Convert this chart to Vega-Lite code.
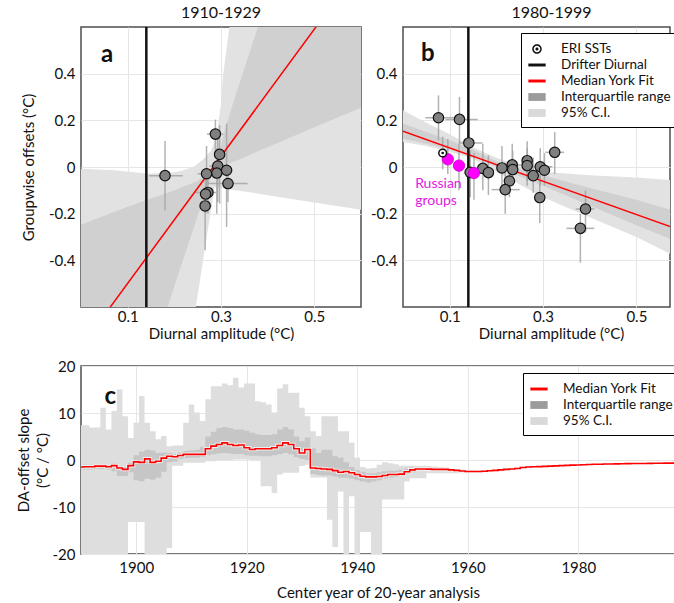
{
  "$schema": "https://vega.github.io/schema/vega-lite/v6.json",
  "padding": {"left": 15, "top": 4, "right": 0, "bottom": 0},
  "config": {
    "font": "Lato",
    "view": {"stroke": "#4d4d4d", "strokeWidth": 1.5},
    "axis": {"labelFontSize": 15, "titleFontSize": 15, "titleFontWeight": "normal", "labelColor": "#111", "titleColor": "#111", "domain": false, "ticks": false, "gridColor": "#e6e6e6", "gridWidth": 1, "labelFont": "Lato", "titleFont": "Lato"},
    "title": {"fontSize": 16, "fontWeight": "normal", "color": "#111", "offset": 5, "font": "Lato"},
    "legend": {"labelFontSize": 13.5, "labelFont": "Lato", "labelColor": "#111", "strokeColor": "black", "fillColor": "white", "padding": 7, "symbolSize": 300, "labelOffset": 15, "rowPadding": 0, "symbolStrokeWidth": 0, "symbolOpacity": 1}
  },
  "resolve": {"scale": {"color": "independent", "shape": "independent"}, "legend": {"color": "independent", "shape": "independent"}},
  "datasets": {
    "ptsA": [
      {"x": 0.18, "y": -0.037, "ylo": -0.186, "yhi": 0.111, "xlo": 0.146, "xhi": 0.218},
      {"x": 0.288, "y": 0.141, "ylo": 0.07, "yhi": 0.203, "xlo": 0.27, "xhi": 0.305},
      {"x": 0.297, "y": 0.054, "ylo": -0.157, "yhi": 0.179},
      {"x": 0.293, "y": 0.004, "ylo": -0.15, "yhi": 0.12, "xlo": 0.275, "xhi": 0.31},
      {"x": 0.291, "y": -0.026, "ylo": -0.2, "yhi": 0.08},
      {"x": 0.269, "y": -0.029, "ylo": -0.12, "yhi": 0.09, "xlo": 0.25, "xhi": 0.3},
      {"x": 0.312, "y": -0.014, "ylo": -0.257, "yhi": 0.186},
      {"x": 0.315, "y": -0.071, "ylo": -0.15, "yhi": 0.0, "xlo": 0.271, "xhi": 0.357},
      {"x": 0.272, "y": -0.109, "ylo": -0.2, "yhi": -0.05, "xlo": 0.245, "xhi": 0.29},
      {"x": 0.267, "y": -0.116, "ylo": -0.2, "yhi": -0.05},
      {"x": 0.266, "y": -0.167, "ylo": -0.357, "yhi": -0.1, "xlo": 0.255, "xhi": 0.28}
    ],
    "ptsB": [
      {"x": 0.076, "y": 0.211, "ylo": 0.114, "yhi": 0.307, "xlo": 0.048, "xhi": 0.109, "g": "g"},
      {"x": 0.121, "y": 0.204, "ylo": 0.1, "yhi": 0.3, "xlo": 0.091, "xhi": 0.16, "g": "g"},
      {"x": 0.141, "y": 0.103, "ylo": -0.02, "yhi": 0.2, "xlo": 0.12, "xhi": 0.17, "g": "g"},
      {"x": 0.085, "y": 0.06, "ylo": -0.01, "yhi": 0.13, "g": "e"},
      {"x": 0.096, "y": 0.033, "ylo": -0.03, "yhi": 0.12, "g": "r"},
      {"x": 0.12, "y": 0.006, "ylo": -0.1, "yhi": 0.1, "g": "r"},
      {"x": 0.144, "y": -0.023, "ylo": -0.13, "yhi": 0.07, "g": "g"},
      {"x": 0.152, "y": -0.026, "ylo": -0.14, "yhi": 0.06, "xlo": 0.13, "xhi": 0.17, "g": "r"},
      {"x": 0.171, "y": -0.006, "ylo": -0.1, "yhi": 0.1, "g": "g"},
      {"x": 0.183, "y": -0.024, "ylo": -0.12, "yhi": 0.05, "g": "g"},
      {"x": 0.212, "y": -0.004, "ylo": -0.1, "yhi": 0.09, "g": "g"},
      {"x": 0.234, "y": 0.009, "ylo": -0.06, "yhi": 0.1, "xlo": 0.2, "xhi": 0.26, "g": "g"},
      {"x": 0.235, "y": -0.011, "ylo": -0.08, "yhi": 0.07, "g": "g"},
      {"x": 0.228, "y": -0.06, "ylo": -0.13, "yhi": 0.02, "g": "g"},
      {"x": 0.219, "y": -0.097, "ylo": -0.2, "yhi": -0.02, "xlo": 0.19, "xhi": 0.25, "g": "g"},
      {"x": 0.266, "y": 0.027, "ylo": -0.08, "yhi": 0.11, "g": "g"},
      {"x": 0.266, "y": 0.006, "ylo": -0.06, "yhi": 0.08, "g": "g"},
      {"x": 0.279, "y": -0.037, "ylo": -0.11, "yhi": 0.04, "g": "g"},
      {"x": 0.294, "y": 0.001, "ylo": -0.08, "yhi": 0.08, "xlo": 0.27, "xhi": 0.32, "g": "g"},
      {"x": 0.303, "y": -0.014, "ylo": -0.08, "yhi": 0.06, "g": "g"},
      {"x": 0.293, "y": -0.131, "ylo": -0.24, "yhi": -0.03, "g": "g"},
      {"x": 0.325, "y": 0.063, "ylo": -0.03, "yhi": 0.15, "xlo": 0.305, "xhi": 0.345, "g": "g"},
      {"x": 0.391, "y": -0.18, "ylo": -0.28, "yhi": -0.1, "xlo": 0.37, "xhi": 0.41, "g": "g"},
      {"x": 0.38, "y": -0.263, "ylo": -0.41, "yhi": -0.2, "xlo": 0.35, "xhi": 0.41, "g": "g"}
    ],
    "ciA": [
      {"x": 0, "lo": -2, "hi": -0.007},
      {"x": 0.071, "lo": -2, "hi": -0.014},
      {"x": 0.146, "lo": -2, "hi": -0.029},
      {"x": 0.2, "lo": -2, "hi": -0.022},
      {"x": 0.214, "lo": -2, "hi": -0.017},
      {"x": 0.24, "lo": -1.0, "hi": 0.0},
      {"x": 0.246, "lo": -0.6, "hi": 0.008},
      {"x": 0.25, "lo": -0.55, "hi": 0.014},
      {"x": 0.26, "lo": -0.42, "hi": 0.03},
      {"x": 0.27, "lo": -0.29, "hi": 0.05},
      {"x": 0.279, "lo": -0.18, "hi": 0.071},
      {"x": 0.286, "lo": -0.086, "hi": 0.11},
      {"x": 0.293, "lo": -0.087, "hi": 0.171},
      {"x": 0.3, "lo": -0.09, "hi": 0.27},
      {"x": 0.304, "lo": -0.091, "hi": 0.386},
      {"x": 0.318, "lo": -0.096, "hi": 0.6},
      {"x": 0.33, "lo": -0.1, "hi": 0.8},
      {"x": 0.35, "lo": -0.105, "hi": 1.2},
      {"x": 0.4, "lo": -0.121, "hi": 2},
      {"x": 0.5, "lo": -0.152, "hi": 2},
      {"x": 0.6, "lo": -0.183, "hi": 2}
    ],
    "iqA": [
      {"x": 0, "lo": -2, "hi": -0.247},
      {"x": 0.1, "lo": -2, "hi": -0.17},
      {"x": 0.15, "lo": -1.2, "hi": -0.135},
      {"x": 0.186, "lo": -0.6, "hi": -0.11},
      {"x": 0.2, "lo": -0.51, "hi": -0.1},
      {"x": 0.23, "lo": -0.33, "hi": -0.076},
      {"x": 0.25, "lo": -0.21, "hi": -0.06},
      {"x": 0.26, "lo": -0.15, "hi": -0.045},
      {"x": 0.27, "lo": -0.09, "hi": -0.03},
      {"x": 0.28, "lo": -0.04, "hi": 0.0},
      {"x": 0.29, "lo": -0.02, "hi": 0.03},
      {"x": 0.3, "lo": 0.0, "hi": 0.09},
      {"x": 0.307, "lo": 0.006, "hi": 0.15},
      {"x": 0.33, "lo": 0.025, "hi": 0.3},
      {"x": 0.379, "lo": 0.067, "hi": 0.6},
      {"x": 0.4, "lo": 0.085, "hi": 0.75},
      {"x": 0.5, "lo": 0.17, "hi": 2},
      {"x": 0.6, "lo": 0.254, "hi": 2}
    ],
    "bandB": [
      {"x": 0, "clo": 0.107, "chi": 0.243, "qlo": 0.121, "qhi": 0.186},
      {"x": 0.05, "clo": 0.09, "chi": 0.19, "qlo": 0.1, "qhi": 0.15},
      {"x": 0.1, "clo": 0.065, "chi": 0.14, "qlo": 0.075, "qhi": 0.115},
      {"x": 0.15, "clo": 0.035, "chi": 0.085, "qlo": 0.045, "qhi": 0.075},
      {"x": 0.2, "clo": -0.02, "chi": 0.04, "qlo": 0.0, "qhi": 0.025},
      {"x": 0.25, "clo": -0.075, "chi": 0.005, "qlo": -0.04, "qhi": -0.01},
      {"x": 0.3, "clo": -0.13, "chi": -0.02, "qlo": -0.08, "qhi": -0.035},
      {"x": 0.4, "clo": -0.215, "chi": -0.035, "qlo": -0.165, "qhi": -0.09},
      {"x": 0.5, "clo": -0.3, "chi": -0.045, "qlo": -0.25, "qhi": -0.14},
      {"x": 0.6, "clo": -0.4, "chi": -0.06, "qlo": -0.33, "qhi": -0.2}
    ],
    "fitA": [{"x": 0, "y": -0.771}, {"x": 0.6, "y": 0.863}],
    "fitB": [{"x": 0, "y": 0.153}, {"x": 0.6, "y": -0.275}],
    "drift": [{"x": 0.14}],
    "ts": [
      {"yr": 1890, "m": -1.5, "q1": -2.0, "q3": -1.0, "lo": -25, "hi": 7.4},
      {"yr": 1891, "m": -1.45, "q1": -2.0, "q3": -1.0, "lo": -25, "hi": 7.4},
      {"yr": 1892, "m": -1.45, "q1": -2.0, "q3": -1.0, "lo": -25, "hi": 6.9},
      {"yr": 1893, "m": -1.3, "q1": -1.9, "q3": -0.9, "lo": -25, "hi": 6.9},
      {"yr": 1894, "m": -1.3, "q1": -1.9, "q3": -0.9, "lo": -25, "hi": 11.1},
      {"yr": 1895, "m": -1.45, "q1": -2.0, "q3": -1.0, "lo": -25, "hi": 6.5},
      {"yr": 1896, "m": -1.2, "q1": -2.4, "q3": -0.8, "lo": -25, "hi": 10.4},
      {"yr": 1897, "m": -1.7, "q1": -3.4, "q3": -1.2, "lo": -25, "hi": 15.0},
      {"yr": 1898, "m": -2.0, "q1": -3.4, "q3": -1.5, "lo": -25, "hi": 9.3},
      {"yr": 1899, "m": -1.2, "q1": -2.6, "q3": -0.6, "lo": -13.2, "hi": 4.7},
      {"yr": 1900, "m": -0.4, "q1": -4.3, "q3": 1.0, "lo": -13.2, "hi": 7.9},
      {"yr": 1901, "m": -0.5, "q1": -4.5, "q3": 1.8, "lo": -13.2, "hi": 13.6},
      {"yr": 1902, "m": 0.25, "q1": -4.0, "q3": 2.2, "lo": -25, "hi": 7.9},
      {"yr": 1903, "m": -0.5, "q1": -4.2, "q3": 2.0, "lo": -25, "hi": 6.1},
      {"yr": 1904, "m": -0.25, "q1": -3.8, "q3": 1.5, "lo": -25, "hi": 4.4},
      {"yr": 1905, "m": 0.4, "q1": -2.5, "q3": 1.6, "lo": -25, "hi": 5.1},
      {"yr": 1906, "m": 0.8, "q1": -0.5, "q3": 1.5, "lo": -18.7, "hi": 2.9},
      {"yr": 1907, "m": 0.7, "q1": -0.3, "q3": 1.3, "lo": -1.2, "hi": 3.1},
      {"yr": 1908, "m": 0.95, "q1": 0.2, "q3": 1.6, "lo": -1.2, "hi": 3.1},
      {"yr": 1909, "m": 1.2, "q1": 0.4, "q3": 1.9, "lo": -0.6, "hi": 7.9},
      {"yr": 1910, "m": 1.2, "q1": 0.5, "q3": 2.0, "lo": -0.6, "hi": 11.8},
      {"yr": 1911, "m": 1.2, "q1": 0.5, "q3": 2.2, "lo": -0.6, "hi": 10.1},
      {"yr": 1912, "m": 1.2, "q1": 0.7, "q3": 2.8, "lo": -0.6, "hi": 8.3},
      {"yr": 1913, "m": 2.4, "q1": 1.0, "q3": 5.0, "lo": -0.25, "hi": 12.9},
      {"yr": 1914, "m": 2.95, "q1": 1.2, "q3": 6.0, "lo": -0.25, "hi": 15.7},
      {"yr": 1915, "m": 3.3, "q1": 1.4, "q3": 6.8, "lo": 0.0, "hi": 15.7},
      {"yr": 1916, "m": 3.65, "q1": 1.5, "q3": 7.0, "lo": 0.0, "hi": 16.3},
      {"yr": 1917, "m": 3.3, "q1": 1.4, "q3": 6.8, "lo": 0.0, "hi": 15.9},
      {"yr": 1918, "m": 3.1, "q1": 1.3, "q3": 6.5, "lo": 0.1, "hi": 17.5},
      {"yr": 1919, "m": 3.2, "q1": 1.3, "q3": 6.5, "lo": 0.1, "hi": 15.4},
      {"yr": 1920, "m": 2.6, "q1": 1.0, "q3": 6.2, "lo": 0.1, "hi": 16.3},
      {"yr": 1921, "m": 2.25, "q1": 0.9, "q3": 5.8, "lo": 0.0, "hi": 16.3},
      {"yr": 1922, "m": 2.4, "q1": 0.9, "q3": 5.5, "lo": 0.0, "hi": 12.5},
      {"yr": 1923, "m": 2.4, "q1": 0.8, "q3": 5.3, "lo": -5.6, "hi": 12.3},
      {"yr": 1924, "m": 2.4, "q1": 0.8, "q3": 5.3, "lo": -5.6, "hi": 11.8},
      {"yr": 1925, "m": 2.6, "q1": 1.0, "q3": 5.5, "lo": -7.0, "hi": 10.1},
      {"yr": 1926, "m": 3.1, "q1": 1.2, "q3": 6.5, "lo": -3.1, "hi": 15.2},
      {"yr": 1927, "m": 3.65, "q1": 1.5, "q3": 7.0, "lo": -2.7, "hi": 16.1},
      {"yr": 1928, "m": 3.3, "q1": 1.2, "q3": 6.5, "lo": -2.7, "hi": 14.3},
      {"yr": 1929, "m": 2.4, "q1": 0.6, "q3": 5.0, "lo": -2.7, "hi": 14.3},
      {"yr": 1930, "m": 1.5, "q1": 0.2, "q3": 4.0, "lo": -1.3, "hi": 11.1},
      {"yr": 1931, "m": 2.25, "q1": 0.0, "q3": 4.8, "lo": -1.0, "hi": 9.3},
      {"yr": 1932, "m": -1.7, "q1": -3.0, "q3": 2.5, "lo": -3.7, "hi": 6.1},
      {"yr": 1933, "m": -1.8, "q1": -3.2, "q3": 1.5, "lo": -3.7, "hi": 5.1},
      {"yr": 1934, "m": -1.9, "q1": -3.3, "q3": 2.2, "lo": -3.7, "hi": 9.3},
      {"yr": 1935, "m": -2.0, "q1": -3.3, "q3": 2.2, "lo": -12.7, "hi": 9.3},
      {"yr": 1936, "m": -2.25, "q1": -3.5, "q3": 0.8, "lo": -18.5, "hi": 9.3},
      {"yr": 1937, "m": -2.6, "q1": -3.8, "q3": 0.5, "lo": -6.7, "hi": 6.1},
      {"yr": 1938, "m": -2.45, "q1": -3.8, "q3": -0.5, "lo": -25, "hi": 6.1},
      {"yr": 1939, "m": -2.7, "q1": -4.0, "q3": -1.5, "lo": -7.7, "hi": 3.7},
      {"yr": 1940, "m": -3.1, "q1": -4.3, "q3": -2.2, "lo": -25, "hi": 0.5},
      {"yr": 1941, "m": -3.45, "q1": -4.6, "q3": -2.5, "lo": -15.3, "hi": -1.5},
      {"yr": 1942, "m": -3.6, "q1": -4.8, "q3": -2.8, "lo": -15.3, "hi": -1.8},
      {"yr": 1943, "m": -3.6, "q1": -4.6, "q3": -2.8, "lo": -25, "hi": -1.7},
      {"yr": 1944, "m": -3.5, "q1": -4.3, "q3": -2.6, "lo": -25, "hi": -1.0},
      {"yr": 1945, "m": -3.3, "q1": -4.0, "q3": -2.4, "lo": -8.4, "hi": -0.5},
      {"yr": 1946, "m": -3.1, "q1": -3.8, "q3": -2.3, "lo": -8.4, "hi": -0.7},
      {"yr": 1947, "m": -3.1, "q1": -3.6, "q3": -2.3, "lo": -8.4, "hi": -0.9},
      {"yr": 1948, "m": -3.0, "q1": -3.4, "q3": -2.1, "lo": -8.4, "hi": -1.2},
      {"yr": 1949, "m": -2.5, "q1": -3.0, "q3": -1.8, "lo": -4.6, "hi": -1.2},
      {"yr": 1950, "m": -2.1, "q1": -2.6, "q3": -1.6, "lo": -3.9, "hi": -1.2},
      {"yr": 1951, "m": -1.9, "q1": -2.3, "q3": -1.6, "lo": -3.9, "hi": -1.2},
      {"yr": 1952, "m": -1.9, "q1": -2.2, "q3": -1.6, "lo": -3.9, "hi": -1.2},
      {"yr": 1953, "m": -1.95, "q1": -2.2, "q3": -1.7, "lo": -2.8, "hi": -1.3},
      {"yr": 1954, "m": -2.0, "q1": -2.25, "q3": -1.75, "lo": -2.8, "hi": -1.4},
      {"yr": 1955, "m": -2.0, "q1": -2.25, "q3": -1.8, "lo": -2.8, "hi": -1.5},
      {"yr": 1956, "m": -2.0, "q1": -2.25, "q3": -1.8, "lo": -2.8, "hi": -1.6},
      {"yr": 1957, "m": -2.1, "q1": -2.35, "q3": -1.9, "lo": -2.8, "hi": -1.7},
      {"yr": 1958, "m": -2.2, "q1": -2.4, "q3": -2.0, "lo": -2.8, "hi": -1.9},
      {"yr": 1959, "m": -2.35, "q1": -2.5, "q3": -2.15, "lo": -2.8, "hi": -2.0},
      {"yr": 1960, "m": -2.45, "q1": -2.6, "q3": -2.3, "lo": -2.8, "hi": -2.1},
      {"yr": 1961, "m": -2.45, "q1": -2.6, "q3": -2.3, "lo": -2.75, "hi": -2.15},
      {"yr": 1962, "m": -2.45, "q1": -2.6, "q3": -2.3, "lo": -2.75, "hi": -2.2},
      {"yr": 1963, "m": -2.4, "q1": -2.55, "q3": -2.25, "lo": -2.7, "hi": -2.15},
      {"yr": 1964, "m": -2.3, "q1": -2.45, "q3": -2.15, "lo": -2.6, "hi": -2.05},
      {"yr": 1965, "m": -2.2, "q1": -2.35, "q3": -2.05, "lo": -2.5, "hi": -1.95},
      {"yr": 1966, "m": -2.1, "q1": -2.25, "q3": -1.95, "lo": -2.4, "hi": -1.85},
      {"yr": 1967, "m": -2.0, "q1": -2.15, "q3": -1.85, "lo": -2.3, "hi": -1.75},
      {"yr": 1968, "m": -1.9, "q1": -2.05, "q3": -1.75, "lo": -2.2, "hi": -1.65},
      {"yr": 1969, "m": -1.8, "q1": -1.95, "q3": -1.65, "lo": -2.1, "hi": -1.55},
      {"yr": 1970, "m": -1.6, "q1": -1.72, "q3": -1.5, "lo": -1.85, "hi": -1.4},
      {"yr": 1971, "m": -1.5, "q1": -1.6, "q3": -1.4, "lo": -1.7, "hi": -1.3},
      {"yr": 1972, "m": -1.45, "q1": -1.55, "q3": -1.35, "lo": -1.62, "hi": -1.28},
      {"yr": 1973, "m": -1.4, "q1": -1.5, "q3": -1.32, "lo": -1.55, "hi": -1.25},
      {"yr": 1974, "m": -1.35, "q1": -1.44, "q3": -1.27, "lo": -1.5, "hi": -1.2},
      {"yr": 1975, "m": -1.3, "q1": -1.38, "q3": -1.23, "lo": -1.45, "hi": -1.16},
      {"yr": 1976, "m": -1.25, "q1": -1.32, "q3": -1.18, "lo": -1.38, "hi": -1.12},
      {"yr": 1977, "m": -1.2, "q1": -1.27, "q3": -1.13, "lo": -1.33, "hi": -1.08},
      {"yr": 1978, "m": -1.15, "q1": -1.22, "q3": -1.09, "lo": -1.27, "hi": -1.04},
      {"yr": 1979, "m": -1.1, "q1": -1.16, "q3": -1.04, "lo": -1.21, "hi": -1.0},
      {"yr": 1980, "m": -1.05, "q1": -1.11, "q3": -1.0, "lo": -1.16, "hi": -0.95},
      {"yr": 1981, "m": -1.0, "q1": -1.06, "q3": -0.95, "lo": -1.1, "hi": -0.9},
      {"yr": 1982, "m": -0.95, "q1": -1.0, "q3": -0.9, "lo": -1.05, "hi": -0.86},
      {"yr": 1983, "m": -0.92, "q1": -0.97, "q3": -0.87, "lo": -1.01, "hi": -0.83},
      {"yr": 1984, "m": -0.89, "q1": -0.94, "q3": -0.85, "lo": -0.98, "hi": -0.81},
      {"yr": 1985, "m": -0.86, "q1": -0.91, "q3": -0.82, "lo": -0.95, "hi": -0.78},
      {"yr": 1986, "m": -0.84, "q1": -0.88, "q3": -0.8, "lo": -0.92, "hi": -0.76},
      {"yr": 1987, "m": -0.82, "q1": -0.86, "q3": -0.78, "lo": -0.9, "hi": -0.74},
      {"yr": 1988, "m": -0.8, "q1": -0.84, "q3": -0.76, "lo": -0.88, "hi": -0.72},
      {"yr": 1989, "m": -0.78, "q1": -0.82, "q3": -0.74, "lo": -0.86, "hi": -0.7},
      {"yr": 1990, "m": -0.76, "q1": -0.8, "q3": -0.72, "lo": -0.84, "hi": -0.68},
      {"yr": 1991, "m": -0.75, "q1": -0.79, "q3": -0.71, "lo": -0.83, "hi": -0.67},
      {"yr": 1992, "m": -0.73, "q1": -0.77, "q3": -0.69, "lo": -0.81, "hi": -0.65},
      {"yr": 1993, "m": -0.72, "q1": -0.76, "q3": -0.68, "lo": -0.8, "hi": -0.64},
      {"yr": 1994, "m": -0.7, "q1": -0.74, "q3": -0.66, "lo": -0.78, "hi": -0.62},
      {"yr": 1995, "m": -0.69, "q1": -0.73, "q3": -0.65, "lo": -0.77, "hi": -0.61},
      {"yr": 1996, "m": -0.67, "q1": -0.71, "q3": -0.63, "lo": -0.75, "hi": -0.59},
      {"yr": 1997, "m": -0.66, "q1": -0.7, "q3": -0.62, "lo": -0.74, "hi": -0.58},
      {"yr": 1998, "m": -0.65, "q1": -0.69, "q3": -0.61, "lo": -0.73, "hi": -0.57}
    ]
  },
  "concat": [
    {
      "hconcat": [
        {
          "width": 280, "height": 280,
          "title": {"text": "1910-1929"},
          "layer": [
            {"data": {"name": "ciA"}, "mark": {"type": "area", "color": "#e2e2e2", "clip": true, "opacity": 1},
             "encoding": {
               "x": {"field": "x", "type": "quantitative", "scale": {"domain": [0, 0.6], "nice": false, "zero": false},
                     "axis": {"title": "Diurnal amplitude (°C)", "values": [0.1, 0.3, 0.5], "format": ".1f", "grid": true, "labelPadding": 2, "titlePadding": 2}},
               "y": {"field": "lo", "type": "quantitative", "scale": {"domain": [-0.6, 0.6], "nice": false, "zero": false},
                     "axis": {"title": "Groupwise offsets (°C)", "values": [-0.4, -0.2, 0, 0.2, 0.4], "labelExpr": "datum.value == 0 ? '0' : replace(format(datum.value, '.1f'), '\u2212', '-')", "grid": true, "labelPadding": 6, "titlePadding": 12}},
               "y2": {"field": "hi"}}},
            {"data": {"name": "iqA"}, "mark": {"type": "area", "color": "#d0d0d0", "clip": true, "opacity": 1},
             "encoding": {"x": {"field": "x", "type": "quantitative"}, "y": {"field": "lo", "type": "quantitative"}, "y2": {"field": "hi"}}},
            {"data": {"name": "ptsA"}, "mark": {"type": "rule", "color": "#a5a5a5", "strokeWidth": 1.5, "opacity": 0.85},
             "encoding": {"x": {"field": "x", "type": "quantitative"}, "y": {"field": "ylo", "type": "quantitative"}, "y2": {"field": "yhi"}}},
            {"data": {"name": "ptsA"}, "transform": [{"filter": "datum.xlo != null"}], "mark": {"type": "rule", "color": "#a5a5a5", "strokeWidth": 1.5, "opacity": 0.85},
             "encoding": {"x": {"field": "xlo", "type": "quantitative"}, "x2": {"field": "xhi"}, "y": {"field": "y", "type": "quantitative"}}},
            {"data": {"name": "fitA"}, "mark": {"type": "line", "color": "#ff0000", "strokeWidth": 1.5, "clip": true},
             "encoding": {"x": {"field": "x", "type": "quantitative"}, "y": {"field": "y", "type": "quantitative"}}},
            {"data": {"name": "drift"}, "mark": {"type": "rule", "color": "#111", "strokeWidth": 2.5},
             "encoding": {"x": {"field": "x", "type": "quantitative"}}},
            {"data": {"name": "ptsA"}, "mark": {"type": "point", "filled": true, "fill": "#808080", "stroke": "#111", "strokeWidth": 1.2, "size": 108, "opacity": 1},
             "encoding": {"x": {"field": "x", "type": "quantitative"}, "y": {"field": "y", "type": "quantitative"}}},
            {"data": {"values": [{"x": 0.056, "y": 0.48, "t": "a"}]}, "mark": {"type": "text", "fontSize": 24, "fontWeight": "bold", "color": "#111"},
             "encoding": {"x": {"field": "x", "type": "quantitative"}, "y": {"field": "y", "type": "quantitative"}, "text": {"field": "t"}}}
          ]
        },
        {
          "width": 267, "height": 280,
          "title": {"text": "1980-1999", "dx": 15},
          "layer": [
            {"data": {"name": "bandB"}, "mark": {"type": "area", "color": "#e2e2e2", "clip": true, "opacity": 1},
             "encoding": {
               "x": {"field": "x", "type": "quantitative", "scale": {"domain": [0, 0.572], "nice": false, "zero": false},
                     "axis": {"title": "Diurnal amplitude (°C)", "values": [0.1, 0.3, 0.5], "format": ".1f", "grid": true, "labelPadding": 2, "titlePadding": 2, "titleX": 148}},
               "y": {"field": "clo", "type": "quantitative", "scale": {"domain": [-0.6, 0.6], "nice": false, "zero": false},
                     "axis": {"title": null, "values": [-0.4, -0.2, 0, 0.2, 0.4], "labelExpr": "datum.value == 0 ? '0' : replace(format(datum.value, '.1f'), '\u2212', '-')", "grid": true, "labelPadding": 6}},
               "y2": {"field": "chi"}}},
            {"data": {"name": "bandB"}, "mark": {"type": "area", "color": "#d0d0d0", "clip": true, "opacity": 1},
             "encoding": {"x": {"field": "x", "type": "quantitative"}, "y": {"field": "qlo", "type": "quantitative"}, "y2": {"field": "qhi"}}},
            {"data": {"name": "ptsB"}, "mark": {"type": "rule", "color": "#a5a5a5", "strokeWidth": 1.5, "opacity": 0.85},
             "encoding": {"x": {"field": "x", "type": "quantitative"}, "y": {"field": "ylo", "type": "quantitative"}, "y2": {"field": "yhi"}}},
            {"data": {"name": "ptsB"}, "transform": [{"filter": "datum.xlo != null"}], "mark": {"type": "rule", "color": "#a5a5a5", "strokeWidth": 1.5, "opacity": 0.85},
             "encoding": {"x": {"field": "xlo", "type": "quantitative"}, "x2": {"field": "xhi"}, "y": {"field": "y", "type": "quantitative"}}},
            {"data": {"name": "fitB"}, "mark": {"type": "line", "color": "#ff0000", "strokeWidth": 1.5, "clip": true},
             "encoding": {"x": {"field": "x", "type": "quantitative"}, "y": {"field": "y", "type": "quantitative"}}},
            {"data": {"name": "drift"}, "mark": {"type": "rule", "color": "#111", "strokeWidth": 2.5},
             "encoding": {"x": {"field": "x", "type": "quantitative"}}},
            {"data": {"name": "ptsB"}, "transform": [{"filter": "datum.g == 'g'"}], "mark": {"type": "point", "filled": true, "fill": "#808080", "stroke": "#111", "strokeWidth": 1.2, "size": 108, "opacity": 1},
             "encoding": {"x": {"field": "x", "type": "quantitative"}, "y": {"field": "y", "type": "quantitative"}}},
            {"data": {"name": "ptsB"}, "transform": [{"filter": "datum.g == 'r'"}], "mark": {"type": "point", "filled": true, "fill": "#ff00ff", "stroke": "#cc00cc", "strokeWidth": 0.8, "size": 130, "opacity": 1},
             "encoding": {"x": {"field": "x", "type": "quantitative"}, "y": {"field": "y", "type": "quantitative"}}},
            {"data": {"name": "ptsB"}, "transform": [{"filter": "datum.g == 'e'"}], "mark": {"type": "point", "filled": true, "fill": "white", "stroke": "#111", "strokeWidth": 1.5, "size": 60, "opacity": 1},
             "encoding": {"x": {"field": "x", "type": "quantitative"}, "y": {"field": "y", "type": "quantitative"}}},
            {"data": {"name": "ptsB"}, "transform": [{"filter": "datum.g == 'e'"}], "mark": {"type": "point", "filled": true, "fill": "#111", "size": 7, "opacity": 1},
             "encoding": {"x": {"field": "x", "type": "quantitative"}, "y": {"field": "y", "type": "quantitative"}}},
            {"data": {"values": [{"x": 0.026, "y": -0.043, "t": "Russian\ngroups"}]}, "mark": {"type": "text", "fontSize": 14, "color": "#e020e0", "align": "left", "baseline": "top", "lineBreak": "\n", "lineHeight": 17},
             "encoding": {"x": {"field": "x", "type": "quantitative"}, "y": {"field": "y", "type": "quantitative"}, "text": {"field": "t"}}},
            {"data": {"values": [{"x": 0.053, "y": 0.484, "t": "b"}]}, "mark": {"type": "text", "fontSize": 24, "fontWeight": "bold", "color": "#111"},
             "encoding": {"x": {"field": "x", "type": "quantitative"}, "y": {"field": "y", "type": "quantitative"}, "text": {"field": "t"}}},
            {"data": {"values": [{"x": -1, "y": -1, "item": "ERI SSTs"}]}, "mark": {"type": "point", "filled": true, "clip": true, "opacity": 1},
             "encoding": {
               "x": {"field": "x", "type": "quantitative"}, "y": {"field": "y", "type": "quantitative"},
               "color": {"field": "item", "type": "nominal",
                 "scale": {"domain": ["ERI SSTs", "Drifter Diurnal", "Median York Fit", "Interquartile range", "95% C.I."], "range": ["#111", "#111", "#ff0000", "#9b9b9b", "#d9d9d9"]},
                 "legend": {"title": null, "orient": "none", "legendX": 440, "legendY": 6}},
               "shape": {"field": "item", "type": "nominal",
                 "scale": {"domain": ["ERI SSTs", "Drifter Diurnal", "Median York Fit", "Interquartile range", "95% C.I."],
                   "range": ["M0,-0.55A0.55,0.55,0,1,1,0,0.55A0.55,0.55,0,1,1,0,-0.55Z M0,-0.38A0.38,0.38,0,1,0,0,0.38A0.38,0.38,0,1,0,0,-0.38Z M0,-0.18A0.18,0.18,0,1,1,0,0.18A0.18,0.18,0,1,1,0,-0.18Z", "M-1,-0.17H1V0.17H-1Z", "M-1,-0.17H1V0.17H-1Z", "M-1,-0.45H1V0.45H-1Z", "M-1,-0.45H1V0.45H-1Z"]},
                 "legend": {"title": null, "orient": "none", "legendX": 440, "legendY": 6}}}}
          ]
        }
      ],
      "spacing": 7
    },
    {
      "width": 594, "height": 188,
      "layer": [
        {"data": {"name": "ts"}, "mark": {"type": "area", "interpolate": "step", "color": "#dedede", "clip": true, "opacity": 1},
         "encoding": {
           "x": {"field": "yr", "type": "quantitative", "scale": {"domain": [1890, 1997.5], "nice": false, "zero": false},
                 "axis": {"title": "Center year of 20-year analysis", "values": [1900, 1920, 1940, 1960, 1980], "format": "d", "grid": true, "labelPadding": 6, "titlePadding": 10}},
           "y": {"field": "lo", "type": "quantitative", "scale": {"domain": [-20, 20], "nice": false, "zero": false},
                 "axis": {"title": ["DA-offset slope", "(°C / °C)"], "values": [-20, -15, -10, -5, 0, 5, 10, 15, 20], "labelExpr": "datum.value % 10 == 0 ? replace(format(datum.value, 'd'), '\u2212', '-') : ''", "grid": true, "labelPadding": 6, "titlePadding": 2, "titleLineHeight": 19}},
           "y2": {"field": "hi"}}},
        {"data": {"name": "ts"}, "mark": {"type": "area", "interpolate": "step", "color": "#c6c6c6", "clip": true, "opacity": 1},
         "encoding": {"x": {"field": "yr", "type": "quantitative"}, "y": {"field": "q1", "type": "quantitative"}, "y2": {"field": "q3"}}},
        {"data": {"name": "ts"}, "mark": {"type": "line", "interpolate": "step", "color": "white", "strokeWidth": 3.5, "clip": true, "opacity": 0.7},
         "encoding": {"x": {"field": "yr", "type": "quantitative"}, "y": {"field": "m", "type": "quantitative"}}},
        {"data": {"name": "ts"}, "mark": {"type": "line", "interpolate": "step", "color": "#ff0000", "strokeWidth": 1.6, "clip": true},
         "encoding": {"x": {"field": "yr", "type": "quantitative"}, "y": {"field": "m", "type": "quantitative"}}},
        {"data": {"values": [{"x": 1895.3, "y": 13.4, "t": "c"}]}, "mark": {"type": "text", "fontSize": 24, "fontWeight": "bold", "color": "#111"},
         "encoding": {"x": {"field": "x", "type": "quantitative"}, "y": {"field": "y", "type": "quantitative"}, "text": {"field": "t"}}},
        {"data": {"values": [{"x": 1800, "y": -100, "item": "Median York Fit"}]}, "mark": {"type": "point", "filled": true, "clip": true, "opacity": 1},
         "encoding": {
           "x": {"field": "x", "type": "quantitative"}, "y": {"field": "y", "type": "quantitative"},
           "color": {"field": "item", "type": "nominal",
             "scale": {"domain": ["Median York Fit", "Interquartile range", "95% C.I."], "range": ["#ff0000", "#9b9b9b", "#d9d9d9"]},
             "legend": {"title": null, "orient": "none", "legendX": 442, "legendY": 7}},
           "shape": {"field": "item", "type": "nominal",
             "scale": {"domain": ["Median York Fit", "Interquartile range", "95% C.I."], "range": ["M-1,-0.17H1V0.17H-1Z", "M-1,-0.45H1V0.45H-1Z", "M-1,-0.45H1V0.45H-1Z"]},
             "legend": {"title": null, "orient": "none", "legendX": 442, "legendY": 7}}}}
      ]
    }
  ],
  "columns": 1,
  "align": "none",
  "spacing": 16
}
